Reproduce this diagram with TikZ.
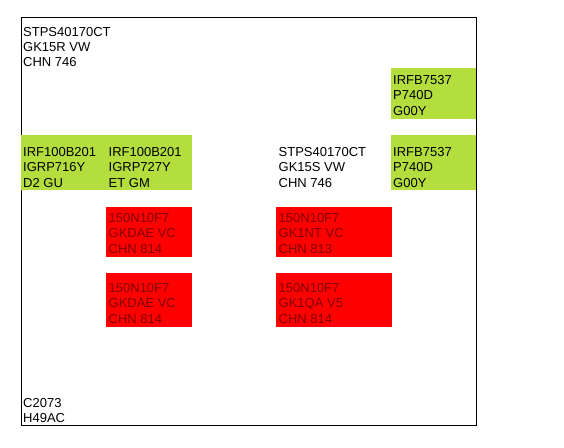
\documentclass[tikz,border=0pt]{standalone}
\usepackage{fontspec}
\setmainfont{Liberation Sans}
\definecolor{lime}{RGB}{180,222,62}
\definecolor{redbox}{RGB}{255,0,0}
\definecolor{redtext}{RGB}{128,0,0}
\begin{document}
\begin{tikzpicture}[x=1pt,y=-1pt,
  lbl/.style={anchor=north west,inner sep=0pt,align=left,font=\fontsize{13}{15.2}\selectfont},
  rlbl/.style={lbl,text=redtext},
  gbox/.style={fill=lime,draw=none,inner sep=0pt,anchor=north west},
  rbox/.style={fill=redbox,draw=none,inner sep=0pt,anchor=north west}]
\useasboundingbox (0,0) rectangle (564,447);
\node[draw=black,line width=1.2pt,inner sep=0pt,anchor=north west,minimum width=455pt,minimum height=408pt] (frame) at (21,17) {};
% boxes
\node[gbox,minimum width=171pt,minimum height=55pt] (g1) at (21,135) {};
\node[gbox,minimum width=85pt,minimum height=51pt] (g2) at (391,68) {};
\node[gbox,minimum width=85pt,minimum height=55pt] (g3) at (391,135) {};
\node[rbox,minimum width=86pt,minimum height=50pt] (r1) at (106,207) {};
\node[rbox,minimum width=86pt,minimum height=54pt] (r2) at (106,273) {};
\node[rbox,minimum width=116pt,minimum height=50pt] (r3) at (276,207) {};
\node[rbox,minimum width=116pt,minimum height=54pt] (r4) at (276,273) {};
% labels
\node[lbl] (t1) at (23,27) {STPS40170CT\\GK15R VW\\CHN 746};
\node[lbl] (t2) at (23,147.5) {IRF100B201\\IGRP716Y\\D2 GU};
\node[lbl] (t3) at (108.5,147.5) {IRF100B201\\IGRP727Y\\ET GM};
\node[lbl] (t4) at (278.5,147.5) {STPS40170CT\\GK15S VW\\CHN 746};
\node[lbl] (t5) at (393,75.5) {IRFB7537\\P740D\\G00Y};
\node[lbl] (t6) at (393,147.5) {IRFB7537\\P740D\\G00Y};
\node[rlbl] (t7) at (108.5,213.5) {150N10F7\\GKDAE VC\\CHN 814};
\node[rlbl] (t8) at (108.5,283.5) {150N10F7\\GKDAE VC\\CHN 814};
\node[rlbl] (t9) at (278.5,213.5) {150N10F7\\GK1NT VC\\CHN 813};
\node[rlbl] (t10) at (278.5,283.5) {150N10F7\\GK1QA V5\\CHN 814};
\node[lbl] (t11) at (23,398.5) {C2073\\H49AC};
\end{tikzpicture}
\end{document}
